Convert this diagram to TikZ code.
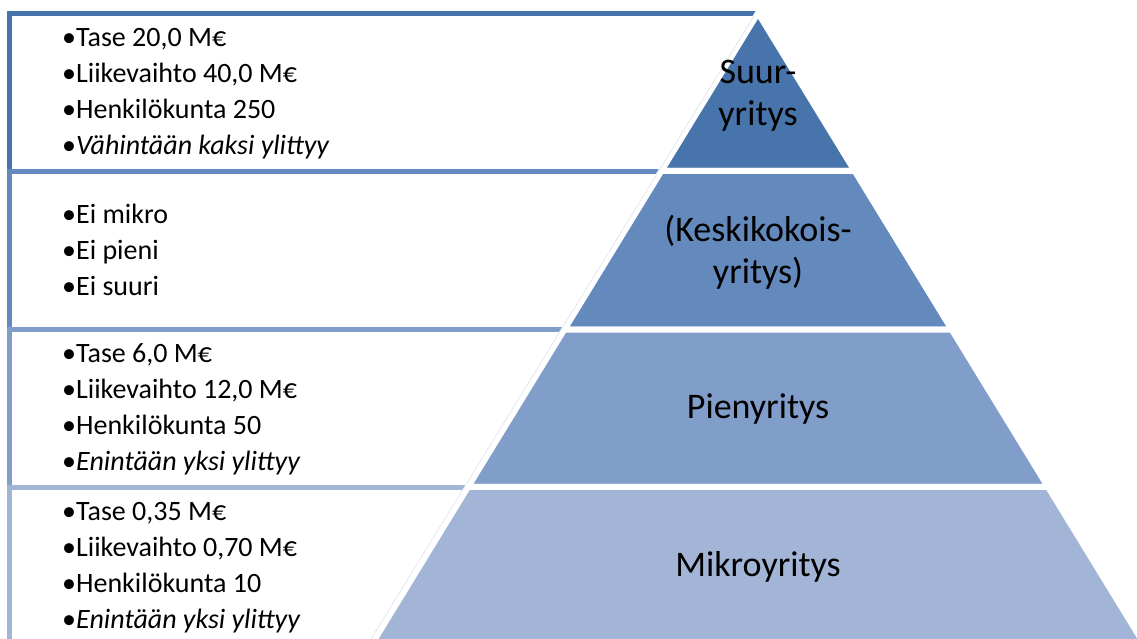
\documentclass[tikz,border=0pt]{standalone}
\usepackage{fontspec}
\setmainfont{Carlito}
\usetikzlibrary{calc}
\definecolor{tierA}{HTML}{4775AB}
\definecolor{tierB}{HTML}{6489BD}
\definecolor{tierC}{HTML}{819DC9}
\definecolor{tierD}{HTML}{A2B5D6}
\definecolor{faint}{HTML}{DCE3EF}
\tikzset{
  tier/.style={draw=white, line width=6pt, line join=miter},
  bar/.style={line width=5pt, line join=miter},
  item/.style={anchor=base west, inner sep=0pt, font=\fontsize{28}{36}\selectfont},
  tierlabel/.style={align=center, inner sep=0pt, font=\fontsize{36}{42}\selectfont}
}
\begin{document}
\begin{tikzpicture}[x=1pt,y=-1pt]
  \useasboundingbox (0,0) rectangle (1137,639);
  \clip (0,0) rectangle (1137,639);
  \coordinate (top) at (758,13);
  \coordinate (bl) at (368.2,650);
  \coordinate (br) at (1147.8,650);
  \coordinate (l1) at ($(top)!0.2480!(bl)$);
  \coordinate (r1) at ($(top)!0.2480!(br)$);
  \coordinate (l2) at ($(top)!0.4969!(bl)$);
  \coordinate (r2) at ($(top)!0.4969!(br)$);
  \coordinate (l3) at ($(top)!0.7441!(bl)$);
  \coordinate (r3) at ($(top)!0.7441!(br)$);

  \draw[bar, tierA] (9.5,171) -- (9.5,14) -- (757.4,14);
  \draw[bar, tierB] (9.5,329.5) -- (9.5,171.5) -- (661,171.5);
  \draw[bar, tierC] (9.5,487.5) -- (9.5,329.5) -- (564.3,329.5);
  \draw[bar, tierD] (9.5,650) -- (9.5,487.5) -- (467.6,487.5);

  \filldraw[tier, fill=tierA] (top) -- (l1) -- (r1) -- cycle;
  \filldraw[tier, fill=tierB] (l1) -- (l2) -- (r2) -- (r1) -- cycle;
  \filldraw[tier, fill=tierC] (l2) -- (l3) -- (r3) -- (r2) -- cycle;
  \filldraw[tier, fill=tierD] (l3) -- (bl) -- (br) -- (r3) -- cycle;
  \draw[faint, line width=0.6pt] ($(top)+(-4,3)$) -- ($(bl)+(-4,0)$);

  \node[tierlabel] (suurlbl) at (758,96) {Suur-\\yritys};
  \node[tierlabel] (keskilbl) at (758,252) {(Keskikokois-\\yritys)};
  \node[tierlabel, anchor=base] (pienilbl) at (758,418) {Pienyritys};
  \node[tierlabel, anchor=base] (mikrolbl) at (758,576) {Mikroyritys};

  \foreach \txt [count=\i] in {{•Tase 20,0 M€},{•Liikevaihto 40,0 M€},{•Henkilökunta 250},{•\textit{Vähintään kaksi ylittyy}}}
    \node[item] (suur\i) at (62,11+36*\i) {\txt};
  \foreach \txt [count=\i] in {{•Ei mikro},{•Ei pieni},{•Ei suuri}}
    \node[item] (keski\i) at (62,187+36*\i) {\txt};
  \foreach \txt [count=\i] in {{•Tase 6,0 M€},{•Liikevaihto 12,0 M€},{•Henkilökunta 50},{•\textit{Enintään yksi ylittyy}}}
    \node[item] (pieni\i) at (62,326+36*\i) {\txt};
  \foreach \txt [count=\i] in {{•Tase 0,35 M€},{•Liikevaihto 0,70 M€},{•Henkilökunta 10},{•\textit{Enintään yksi ylittyy}}}
    \node[item] (mikro\i) at (62,484+36*\i) {\txt};
\end{tikzpicture}
\end{document}
